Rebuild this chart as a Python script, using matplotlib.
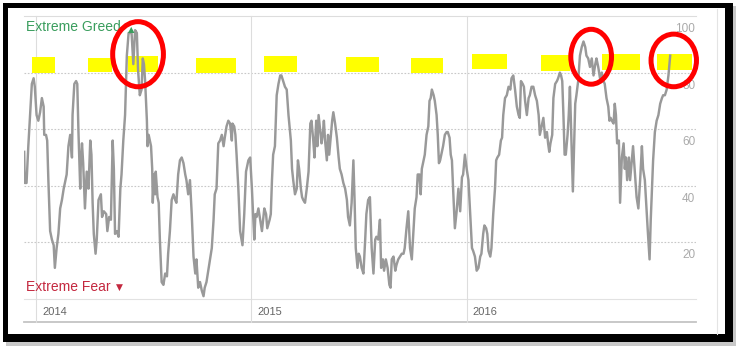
import matplotlib
matplotlib.use('Agg')
import matplotlib.pyplot as plt
import matplotlib.dates as mdates
from matplotlib.patches import Ellipse, Rectangle
import pandas as pd

plt.rcParams['font.family'] = ['Liberation Sans', 'DejaVu Sans']

START = pd.Timestamp('2014-01-01')

# Fear & Greed index, days counted from 2014-01-01
day_offsets = [
    -20, -19, -16, -13, -10, -7, -4, -2, 1, 4, 7, 10, 13, 14, 17, 19, 21, 24, 27, 30,
    32, 35, 38, 41, 44, 47, 52, 55, 58, 61, 62, 65, 68, 70, 72, 75, 76, 78, 80, 83,
    86, 89, 92, 94, 96, 98, 101, 103, 106, 110, 112, 115, 119, 121, 124, 127, 130, 132, 134, 137,
    140, 143, 145, 148, 151, 154, 157,
    159, 162, 165, 168, 171, 173, 176, 179, 181, 183, 185, 188, 189, 191, 193, 195, 197, 198, 200, 202,
    203, 206, 208, 210, 213, 216, 219, 222, 224, 227, 230, 233, 236, 238, 241, 244, 247, 250, 253, 255,
    258, 261, 264, 267, 270, 272, 275, 278, 281, 284, 286, 289, 292, 295, 298, 301, 303, 306, 309, 312,
    315, 318, 320, 323, 326, 329, 332, 333, 336, 338, 340, 343, 346,
    350, 353, 356, 360, 363, 366, 368, 370, 372, 374, 377, 380, 383, 387, 390, 392, 396, 398, 400, 402,
    405, 408, 411, 414, 416, 419, 422, 425, 428, 431, 432, 434, 436, 439, 442, 444, 446, 449, 451, 453,
    456, 459, 462, 465, 467, 470, 472, 475, 477, 479, 481, 484, 486, 488, 490, 493, 495, 497, 500, 502,
    504, 507, 510, 513, 515, 518, 521, 524, 527, 529, 532,
    535, 538, 540, 542, 545, 547, 549, 552, 555, 558, 560, 563, 566, 569, 572, 575, 577, 580, 583, 585,
    588, 590, 593, 596, 599, 601, 603, 606, 609, 611, 614, 617, 620, 623, 625, 628, 631, 634, 637, 640,
    642, 645, 647, 650, 652, 654, 657, 659, 662, 665, 667, 669, 671, 674, 676, 679, 681, 683, 685, 688,
    690, 693, 696, 698, 701, 703, 705, 707, 710, 713, 716,
    719, 722, 724, 727, 730, 733, 736, 739, 741, 744, 747, 750, 753, 755, 758, 760, 763, 765, 767, 770,
    772, 775, 778, 780, 782, 785, 788, 790, 792, 795, 798, 801, 804, 806, 809, 812, 815, 818, 820, 822,
    825, 827, 829, 832, 835, 837, 840, 843, 846, 849, 852, 854, 857, 860, 863, 866, 868, 870, 872, 875,
    877, 880, 883, 885, 888, 890, 892, 894, 896, 898, 901, 903, 905,
    910, 914, 916, 919, 922, 925, 928, 931, 933, 936, 939, 942, 945, 948, 950, 953, 956, 959, 962, 964,
    967, 970, 972, 974, 976, 979, 981, 983, 985, 988, 990, 993, 996, 998, 1000, 1002, 1005, 1007, 1010, 1012,
    1015, 1018, 1021, 1024, 1027, 1029, 1032, 1035, 1037, 1040, 1042, 1044, 1046, 1049, 1052, 1055, 1058, 1061, 1063, 1066,
    1069, 1072, 1075,
]
fg_values = [
    52, 41, 41, 54, 65, 76, 78, 75, 65, 63, 66, 71, 68, 58, 58, 56, 42, 24, 21, 19,
    11, 18, 23, 32, 35, 39, 44, 54, 58, 50, 65, 76, 77, 76, 59, 39, 48, 55, 48, 32,
    45, 39, 56, 51, 34, 23, 16, 21, 35, 37, 29, 31, 30, 24, 29, 28, 56, 46, 23, 24,
    22, 39, 44, 56, 65, 86, 94,
    94, 94, 83, 95, 94, 81, 72, 74, 85, 83, 77, 63, 54, 58, 56, 54, 46, 34, 44, 37,
    45, 36, 34, 21, 6, 5, 9, 8, 16, 24, 35, 37, 35, 34, 44, 49, 50, 48, 44, 42,
    37, 42, 30, 15, 9, 14, 4, 6, 3, 1, 4, 6, 10, 14, 18, 28, 37, 39, 55, 56,
    58, 54, 57, 61, 63, 62, 56, 62, 61, 58, 51, 39, 24,
    19, 30, 45, 49, 50, 39, 30, 21, 30, 29, 32, 28, 24, 32, 30, 25, 28, 30, 42, 51,
    54, 72, 76, 79, 79, 77, 75, 74, 65, 58, 56, 46, 42, 37, 39, 49, 46, 39, 36, 35,
    34, 39, 45, 62, 63, 56, 50, 63, 54, 65, 61, 55, 58, 63, 56, 49, 58, 51, 58, 63,
    66, 62, 57, 50, 46, 44, 41, 39, 35, 29, 26,
    34, 49, 35, 18, 11, 16, 15, 11, 9, 21, 30, 35, 36, 18, 9, 21, 22, 21, 28, 11,
    14, 10, 14, 11, 5, 4, 14, 15, 10, 12, 14, 15, 16, 16, 18, 25, 31, 18, 14, 25,
    32, 36, 44, 44, 37, 46, 49, 51, 58, 61, 70, 71, 74, 72, 70, 65, 58, 48, 49, 52,
    54, 58, 59, 59, 57, 51, 49, 39, 25, 31, 39,
    31, 43, 44, 51, 46, 42, 30, 18, 17, 15, 10, 11, 15, 16, 23, 26, 25, 23, 17, 15,
    18, 30, 39, 49, 50, 51, 56, 57, 65, 71, 72, 75, 74, 78, 79, 74, 68, 65, 64, 77,
    76, 75, 70, 65, 71, 72, 75, 75, 72, 70, 65, 58, 61, 64, 57, 59, 55, 52, 55, 58,
    71, 76, 77, 78, 80, 79, 77, 65, 51, 51, 58, 65, 75,
    38, 69, 72, 77, 86, 89, 91, 89, 86, 85, 82, 85, 79, 83, 85, 82, 78, 80, 77, 76,
    71, 68, 63, 64, 63, 62, 69, 65, 55, 56, 34, 50, 55, 46, 50, 42, 50, 42, 49, 54,
    45, 36, 32, 42, 54, 46, 42, 31, 24, 14, 28, 39, 49, 59, 63, 65, 69, 71, 72, 72,
    74, 79, 86,
]

year_labels = [2014, 2015, 2016]
y_tick_values = [20, 40, 60, 80, 100]
grid_values = [20, 40, 60, 80]

# yellow marker dashes drawn over the chart (day offsets / index values)
band_start = [-7, 88, 156, 271, 387, 526, 636, 739, 856, 959, 1053]
band_end = [32, 129, 207, 339, 442, 581, 690, 798, 905, 1024, 1112]
band_low = [79.9, 80.2, 80.2, 79.9, 80.2, 80.2, 79.9, 81.2, 80.6, 80.9, 80.9]
band_high = [85.5, 85.2, 85.9, 85.2, 85.9, 85.5, 85.2, 86.6, 86.2, 86.6, 86.6]

# hand drawn red circles
circle_day = [173, 941, 1081]
circle_value = [86.5, 85.6, 84.3]
circle_width = [86, 69, 77]
circle_height = [23, 19.4, 18.6]

W, H = 739, 363


def to_num(days):
    return mdates.date2num(START + pd.Timedelta(days=days))


def fx(x):
    return x / W


def fy(y):
    return 1 - y / H


def draw_frame(fig):
    # screenshot border with a soft shadow, kept behind the axes
    fig.patches.append(Rectangle((fx(6), fy(346)), fx(730), 340 / H, transform=fig.transFigure,
                                 facecolor='#c8c8c8', edgecolor='none', zorder=-3))
    fig.patches.append(Rectangle((fx(3), fy(342)), fx(730), 339 / H, transform=fig.transFigure,
                                 facecolor='black', edgecolor='none', zorder=-2))
    fig.patches.append(Rectangle((fx(7.5), fy(334)), fx(717.5), 326.5 / H, transform=fig.transFigure,
                                 facecolor='white', edgecolor='none', zorder=-1))
    fig.add_artist(plt.Line2D([fx(717), fx(717)], [fy(9), fy(334)], transform=fig.transFigure,
                              color='#e4e4e4', lw=0.8, zorder=-0.5))


def main():
    fig = plt.figure(figsize=(W / 100, H / 100), dpi=100)
    draw_frame(fig)

    ax = fig.add_axes([fx(24), fy(299), 672 / W, 283 / H])
    ax.set_axis_off()
    dates = [START + pd.Timedelta(days=d) for d in day_offsets]
    ax.plot(dates, fg_values, color='#999999', lw=1.75, zorder=3, solid_joinstyle='round')
    ax.set_xlim(to_num(-20.3), to_num(1118.7))
    ax.set_ylim(0, 100)

    strip = -23 / 283
    for v in grid_values:
        ax.axhline(v, color='#c8c8c8', lw=0.8, ls=(0, (1.5, 1.5)), zorder=1)
    ax.axhline(100, color='#dddddd', lw=0.8, clip_on=False, zorder=1)
    ax.axhline(0, color='#e2e2e2', lw=0.8, clip_on=False, zorder=1)
    ax.plot([0, 1], [strip, strip], transform=ax.transAxes, clip_on=False,
            color='#c4c4c4', lw=1.3, zorder=1)

    for yr in year_labels:
        x = mdates.date2num(pd.Timestamp(f'{yr}-01-01'))
        ax.axvline(x, ymin=strip, ymax=1, color='#dddddd', lw=0.8, clip_on=False, zorder=1)
        ax.annotate(str(yr), xy=(x, -13 / 283), xycoords=ax.get_xaxis_transform(),
                    xytext=(4.3, 0), textcoords='offset points', ha='left', va='center',
                    fontsize=8, color='#666666')

    for v in y_tick_values:
        ax.annotate(str(v), xy=(1, v), xycoords=ax.get_yaxis_transform(),
                    xytext=(-0.5, -9.4), textcoords='offset points', ha='right', va='center',
                    fontsize=8.5, color='#aaaaaa')

    for s, e, lo, hi in zip(band_start, band_end, band_low, band_high):
        ax.add_patch(Rectangle((to_num(s), lo), e - s, hi - lo, facecolor='#ffff00',
                               edgecolor='none', zorder=2, clip_on=False))

    ax.text(0.003, 0.961, 'Extreme Greed', transform=ax.transAxes, ha='left', va='center',
            fontsize=10, color='#3a9d5d', zorder=3)
    ax.text(0.159, 0.954, '▲', transform=ax.transAxes, ha='center', va='center',
            fontsize=6, color='#3a9d5d', family='DejaVu Sans', zorder=3)
    ax.text(0.003, 0.042, 'Extreme Fear', transform=ax.transAxes, ha='left', va='center',
            fontsize=10, color='#c4283f', zorder=3)
    ax.text(0.142, 0.040, '▼', transform=ax.transAxes, ha='center', va='center',
            fontsize=6.5, color='#c4283f', family='DejaVu Sans', zorder=3)

    for d, v, w, h in zip(circle_day, circle_value, circle_width, circle_height):
        ax.add_patch(Ellipse((to_num(d), v), w, h, fill=False, edgecolor='#ff0000',
                             lw=3.6, zorder=5, clip_on=False))

    fig.savefig('out.png', dpi=100)


if __name__ == '__main__':
    main()
